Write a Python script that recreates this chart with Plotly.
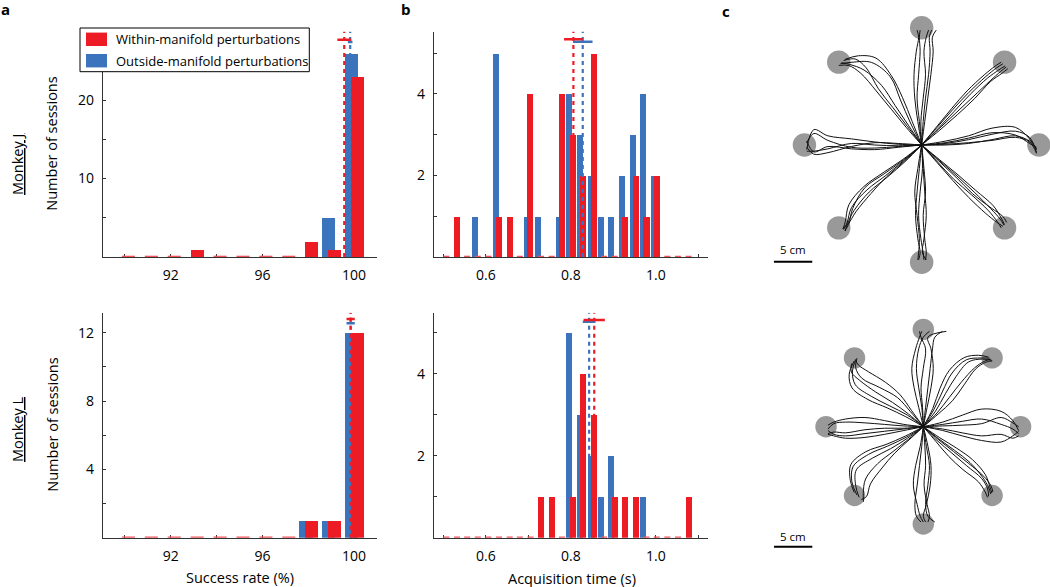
import numpy as np
import plotly.graph_objects as go

W, H = 1050, 587
RED = "#ED1C24"
BLUE = "#3B74BC"
AXC = "#333333"
FONT = "Open Sans"

# ---------------- panel a : success rate ----------------
success_bins = [90, 91, 92, 93, 94, 95, 96, 97, 98, 99, 100]
success_tickvals = [90, 92, 94, 96, 98, 100]
success_ticktext = ["", "92", "", "96", "", "100"]
J_success_within = [0, 0, 0, 1, 0, 0, 0, 0, 2, 1, 23]
J_success_outside = [0, 0, 0, 0, 0, 0, 0, 0, 0, 5, 26]
L_success_within = [0, 0, 0, 0, 0, 0, 0, 0, 1, 1, 12]
L_success_outside = [0, 0, 0, 0, 0, 0, 0, 0, 1, 1, 12]
# [within, outside]
J_success_mean = [99.57, 99.83]
J_success_sem = [0.30, 0.10]
J_success_mark_y = [27.7, 27.4]
L_success_mean = [99.85, 99.85]
L_success_sem = [0.18, 0.18]
L_success_mark_y = [12.8, 12.55]
J_count_tickvals = [5, 10, 15, 20, 25]
J_count_ticktext = ["", "10", "", "20", ""]
L_count_tickvals = [2, 4, 6, 8, 10, 12]
L_count_ticktext = ["", "4", "", "8", "", "12"]

# ---------------- panel b : acquisition time ----------------
acq_bins = [0.507, 0.532, 0.556, 0.581, 0.606, 0.631, 0.656, 0.680, 0.705, 0.730,
            0.755, 0.779, 0.804, 0.829, 0.854, 0.878, 0.903, 0.928, 0.953, 0.978,
            1.002, 1.027, 1.052, 1.077]
acq_tickvals = [0.5, 0.6, 0.7, 0.8, 0.9, 1.0, 1.1]
acq_ticktext = ["", "0.6", "", "0.8", "", "1.0", ""]
J_acq_within = [0, 1, 0, 0, 0, 1, 1, 0, 4, 0, 0, 4, 3, 2, 5, 0, 0, 1, 2, 1, 2, 0, 0, 0]
J_acq_outside = [0, 0, 0, 1, 0, 5, 0, 0, 1, 1, 0, 1, 4, 3, 2, 1, 1, 2, 3, 4, 2, 0, 0, 0]
L_acq_within = [0, 0, 0, 0, 0, 0, 0, 0, 0, 1, 1, 0, 1, 4, 3, 0, 1, 1, 1, 0, 0, 0, 0, 1]
L_acq_outside = [0, 0, 0, 0, 0, 0, 0, 0, 0, 0, 0, 0, 5, 3, 2, 1, 2, 0, 0, 1, 0, 0, 0, 0]
J_acq_mean = [0.806, 0.828]
J_acq_sem = [0.022, 0.023]
J_acq_mark_y = [5.34, 5.28]
L_acq_mean = [0.855, 0.843]
L_acq_sem = [0.025, 0.015]
L_acq_mark_y = [5.31, 5.27]
acq_count_tickvals = [1, 2, 3, 4, 5]
acq_count_ticktext = ["", "2", "", "4", ""]

# ---------------- panel c : cursor trajectories ----------------
target_angles = [90, 45, 0, -45, -90, -135, 180, 135]
J_target_dist, L_target_dist = 15.3, 12.7
J_target_radius, L_target_radius = 1.53, 1.40
scale_bar_cm = 5
traj_fracs = [0, 0.2, 0.4, 0.6, 0.8, 0.92, 0.98]
# perpendicular offsets (cm, + = counter-clockwise side) per trajectory
J_T090 = [[0, 0.3, 0.6, 0.4, 0.2, 0.3, 0.2], [0, -0.2, -0.5, -0.9, -1.1, -1.0, -1.3],
          [0, 0.1, -0.2, -0.5, -0.3, -0.6, -0.9], [0, 0.5, 0.9, 1.0, 0.7, 0.4, 0.6],
          [0, -0.4, -0.8, -1.2, -1.5, -1.4, -1.9]]
J_T045 = [[0, 0.2, 0.4, 0.5, 0.4, 0.2, 0.0], [0, -0.1, -0.2, -0.3, -0.4, -0.5, -0.6],
          [0, 0.3, 0.6, 0.8, 0.7, 0.5, 0.3], [0, 0.0, 0.1, 0.2, 0.1, -0.2, -0.4],
          [0, -0.3, -0.5, -0.6, -0.5, -0.8, -0.9]]
J_T000 = [[0, 0.5, 1.2, 2.2, 2.3, 0.8, -0.6], [0, 0.2, 0.7, 1.4, 1.8, 1.0, -1.0],
          [0, 0.1, 0.3, 0.6, 1.0, 0.4, -1.1], [0, 0.3, 0.9, 1.6, 1.3, 0.2, -0.3],
          [0, 0.0, 0.2, 0.7, 1.2, 0.5, -0.5]]
J_T315 = [[0, 0.2, 0.4, 0.5, 0.5, 0.4, 0.2], [0, -0.2, -0.4, -0.5, -0.4, -0.2, 0.0],
          [0, 0.1, 0.2, 0.2, 0.6, 0.9, 0.7], [0, -0.1, -0.2, 0.0, 0.1, -0.1, -0.3],
          [0, 0.3, 0.6, 0.8, 1.0, 0.6, 0.3]]
J_T270 = [[0, 0.3, 0.5, 0.2, 0.4, 0.6, 0.5], [0, -0.3, -0.6, -0.8, -0.5, -0.2, -0.4],
          [0, 0.1, -0.2, -0.4, -0.1, 0.2, 0.3], [0, -0.5, -0.9, -0.6, -0.3, -0.4, -0.5],
          [0, 0.2, 0.4, 0.6, 0.3, 0.1, 0.6]]
J_T225 = [[0, -0.3, -0.8, -1.3, -0.5, 0.6, 0.8], [0, -0.2, -0.5, -0.9, -0.7, 0.3, 0.6],
          [0, 0.0, -0.2, -0.5, -0.2, 0.4, 0.9], [0, -0.4, -1.0, -1.5, -1.2, 0.0, 0.5],
          [0, -0.1, -0.3, -0.2, 0.1, 0.5, 0.4]]
J_T180 = [[0, 0.2, 0.4, 0.3, -0.6, -1.5, -0.3], [0, -0.2, -0.3, 0.2, 1.0, 1.2, 0.3],
          [0, 0.1, 0.0, -0.2, 0.5, 0.8, 0.8], [0, -0.1, -0.4, -0.8, -1.2, -2.0, 0.6],
          [0, 0.3, 0.6, 0.5, 0.2, 0.9, -0.5]]
J_T135 = [[0, -1.0, -2.2, -3.4, -3.0, -1.2, 0.0], [0, -0.6, -1.2, -1.8, -1.6, -0.8, -0.2],
          [0, -0.4, -0.8, -1.2, -2.0, -1.8, -0.6], [0, -1.3, -2.6, -3.6, -3.8, -2.4, -0.8],
          [0, -0.2, -0.5, -0.8, -1.0, -0.6, 0.3]]
L_T090 = [[0, 0.6, 1.2, 1.5, 1.0, 0.5, 0.2], [0, -0.3, -0.6, -0.9, -1.2, -1.5, -2.5],
          [0, 0.2, 0.6, 0.9, 0.6, 0.0, -0.8], [0, -0.5, -1.0, -1.3, -1.0, -0.6, -3.0],
          [0, 0.1, 0.3, 0.0, -0.3, 0.3, 0.5]]
L_T045 = [[0, 0.6, 1.5, 2.3, 2.2, 1.0, 0.2], [0, 0.3, 1.0, 1.6, 1.8, 0.8, -0.2],
          [0, 0.0, 0.3, 0.6, 0.7, 0.4, 0.0], [0, 0.8, 2.0, 2.8, 2.6, 1.5, 0.4],
          [0, -0.2, -0.3, 0.1, 0.5, 0.2, -0.3]]
L_T000 = [[0, 0.6, 1.5, 2.3, 2.0, 0.8, -0.5], [0, -0.3, -0.8, -1.2, -1.0, -1.5, -1.2],
          [0, 0.3, 0.7, 1.0, 0.3, -0.3, -0.9], [0, -0.5, -1.2, -1.8, -2.0, -1.2, -0.6],
          [0, 0.1, 0.2, 0.4, 1.2, 0.5, 0.0]]
L_T315 = [[0, 0.3, 0.7, 1.0, 0.8, 0.4, 0.0], [0, 0.0, 0.2, 0.4, 0.6, 0.2, -0.4],
          [0, 0.5, 1.1, 1.5, 1.3, 0.6, 0.2], [0, -0.2, -0.4, -0.3, 0.0, -0.3, -0.6],
          [0, 0.2, 0.5, 0.8, 1.0, 0.8, 0.4]]
L_T270 = [[0, 0.4, 0.8, 0.6, 0.3, 0.6, 1.5], [0, -0.4, -1.0, -1.3, -0.8, -0.4, 0.0],
          [0, 0.2, 0.3, 0.1, 0.5, 0.8, 0.6], [0, -0.2, -0.5, -0.8, -1.1, -0.9, -0.3],
          [0, 0.6, 1.0, 0.9, 0.4, 0.0, 0.3]]
L_T225 = [[0, -0.6, -1.5, -2.5, -2.8, -1.5, 0.2], [0, -0.4, -1.0, -1.8, -2.2, -0.8, 0.6],
          [0, -0.2, -0.5, -0.8, -0.5, 0.6, 1.4], [0, -0.8, -1.8, -3.0, -3.2, -1.8, -0.3],
          [0, -0.1, -0.2, 0.0, 0.4, 1.2, 1.0]]
L_T180 = [[0, 0.3, 0.6, 0.9, 1.2, 1.0, 0.5], [0, -0.3, -0.8, -1.2, -1.0, -0.6, -0.2],
          [0, 0.5, 1.0, 1.4, 1.5, 1.2, 1.0], [0, -0.1, -0.3, -0.5, -0.6, -0.4, 0.3],
          [0, 0.2, 0.2, 0.4, 0.8, 0.7, 0.9]]
L_T135 = [[0, 0.4, 1.2, 2.0, 2.4, 1.4, 0.0], [0, -0.4, -0.8, -0.6, 0.0, 0.3, 0.1],
          [0, 0.7, 1.6, 2.6, 3.0, 2.0, 0.3], [0, -0.2, -0.3, 0.4, 1.2, 0.8, -0.2],
          [0, 0.2, 0.6, 1.2, 1.6, 1.6, 0.8]]
J_trajs = [J_T090, J_T045, J_T000, J_T315, J_T270, J_T225, J_T180, J_T135]
L_trajs = [L_T090, L_T045, L_T000, L_T315, L_T270, L_T225, L_T180, L_T135]


def px_x(px):
    return px / W


def px_y(py):
    return 1 - py / H


fig = go.Figure()


def add_hist(xa, ya, bins, within, outside, means, sems, mark_y, ytop, red_off, blue_off, bw, lw_err):
    xr = "x" + xa
    yr = "y" + ya
    bins = np.array(bins, dtype=float)
    within = np.array(within)
    outside = np.array(outside)
    for m, col in [(means[1], BLUE), (means[0], RED)]:
        fig.add_trace(go.Scatter(x=[m, m], y=[0, ytop], mode="lines",
                                 line=dict(color=col, width=2.2, dash="4px,4px"),
                                 xaxis=xr, yaxis=yr, hoverinfo="skip"))
    nz_o = outside > 0
    fig.add_trace(go.Bar(x=(bins + blue_off)[nz_o], y=outside[nz_o], width=bw,
                         marker=dict(color=BLUE, line=dict(width=0)), opacity=1,
                         xaxis=xr, yaxis=yr))
    nz_w = within > 0
    fig.add_trace(go.Bar(x=(bins + red_off)[nz_w], y=within[nz_w], width=bw,
                         marker=dict(color=RED, line=dict(width=0)), opacity=1,
                         xaxis=xr, yaxis=yr))
    zx, zy = [], []
    for c in (bins + red_off)[~nz_w]:
        zx += [c - bw / 2, c + bw / 2, None]
        zy += [0, 0, None]
    fig.add_trace(go.Scatter(x=zx, y=zy, mode="lines", line=dict(color="#F0555B", width=2.6),
                             xaxis=xr, yaxis=yr, hoverinfo="skip"))
    for m, s, yy, col in [(means[1], sems[1], mark_y[1], BLUE), (means[0], sems[0], mark_y[0], RED)]:
        fig.add_trace(go.Scatter(x=[m - s, m + s], y=[yy, yy], mode="lines",
                                 line=dict(color=col, width=lw_err),
                                 xaxis=xr, yaxis=yr, hoverinfo="skip"))


a_top = [0, 28.75]
a_bot = [0, 13.17]
b_top = [0, 5.53]
b_bot = [0, 5.49]
add_hist("", "", success_bins, J_success_within, J_success_outside, J_success_mean,
         J_success_sem, J_success_mark_y, a_top[1], 0.15, -0.1, 0.57, 2.5)
add_hist("2", "2", success_bins, L_success_within, L_success_outside, L_success_mean,
         L_success_sem, L_success_mark_y, a_bot[1], 0.15, -0.1, 0.57, 2.5)
add_hist("3", "3", acq_bins, J_acq_within, J_acq_outside, J_acq_mean,
         J_acq_sem, J_acq_mark_y, b_top[1], 0.0, -0.0075, 0.0142, 2.5)
add_hist("4", "4", acq_bins, L_acq_within, L_acq_outside, L_acq_mean,
         L_acq_sem, L_acq_mark_y, b_bot[1], 0.0, -0.0075, 0.0142, 2.5)


def add_center_out(xa, ya, trajs, dist, radius):
    xr, yr = "x" + xa, "y" + ya
    ang = np.deg2rad(target_angles)
    tx = dist * np.cos(ang)
    ty = dist * np.sin(ang)
    fig.add_trace(go.Scatter(x=tx, y=ty, mode="markers",
                             marker=dict(color="#999999", size=2 * radius * 7.66, line=dict(width=0)),
                             xaxis=xr, yaxis=yr, hoverinfo="skip"))
    for a_deg, group in zip(target_angles, trajs):
        a = np.deg2rad(a_deg)
        u = np.array([np.cos(a), np.sin(a)])
        n = np.array([-np.sin(a), np.cos(a)])
        for offs in group:
            f = np.array(traj_fracs)
            o = np.array(offs)
            xs = dist * f * u[0] + o * n[0]
            ys = dist * f * u[1] + o * n[1]
            fig.add_trace(go.Scatter(x=xs, y=ys, mode="lines",
                                     line=dict(color="#111111", width=1, shape="spline", smoothing=1.0),
                                     xaxis=xr, yaxis=yr, hoverinfo="skip"))


add_center_out("5", "5", J_trajs, J_target_dist, J_target_radius)
add_center_out("6", "6", L_trajs, L_target_dist, L_target_radius)

for xa, x0, yb, ylab in [("5", -19.28, -15.23, -13.7), ("6", -19.49, -15.67, -14.36)]:
    fig.add_trace(go.Scatter(x=[x0, x0 + scale_bar_cm], y=[yb, yb], mode="lines",
                             line=dict(color="black", width=2), xaxis="x" + xa, yaxis="y" + xa,
                             hoverinfo="skip"))
    fig.add_annotation(x=x0 + scale_bar_cm / 2, y=ylab, xref="x" + xa, yref="y" + xa,
                       text=f"{scale_bar_cm} cm", showarrow=False,
                       font=dict(family=FONT, size=11.5, color="black"))

tickfont = dict(family=FONT, size=14, color="black")


def hax(dom, rng, tv, tt):
    return dict(domain=dom, range=rng, tickvals=tv, ticktext=tt, showline=True, linecolor=AXC,
                linewidth=1.4, ticks="inside", ticklen=3, tickwidth=1.2, tickcolor=AXC,
                showgrid=False, zeroline=False, tickfont=tickfont, ticklabelstandoff=5,
                layer="below traces", fixedrange=True)


ax_a_x = [px_x(103), px_x(377)]
ax_b_x = [px_x(434), px_x(707.7)]
top_y = [px_y(257), px_y(31.5)]
bot_y = [px_y(537.7), px_y(312.7)]

hidden = dict(visible=False, showgrid=False, zeroline=False, fixedrange=True)

fig.update_layout(
    width=W, height=H, margin=dict(l=0, r=0, t=0, b=0),
    paper_bgcolor="white", plot_bgcolor="white", showlegend=False,
    barmode="overlay", bargap=0,
    font=dict(family=FONT, color="black"),
    xaxis=dict(**hax(ax_a_x, [89.04, 101.0], success_tickvals, success_ticktext), anchor="y"),
    yaxis=dict(**hax(top_y, a_top, J_count_tickvals, J_count_ticktext), anchor="x"),
    xaxis2=dict(**hax(ax_a_x, [89.04, 101.0], success_tickvals, success_ticktext), anchor="y2"),
    yaxis2=dict(**hax(bot_y, a_bot, L_count_tickvals, L_count_ticktext), anchor="x2"),
    xaxis3=dict(**hax(ax_b_x, [0.478, 1.122], acq_tickvals, acq_ticktext), anchor="y3"),
    yaxis3=dict(**hax(top_y, b_top, acq_count_tickvals, acq_count_ticktext), anchor="x3"),
    xaxis4=dict(**hax(ax_b_x, [0.478, 1.122], acq_tickvals, acq_ticktext), anchor="y4"),
    yaxis4=dict(**hax(bot_y, b_bot, acq_count_tickvals, acq_count_ticktext), anchor="x4"),
    xaxis5=dict(domain=[px_x(760), 1], range=[-21.1, 16.75], anchor="y5", **hidden),
    yaxis5=dict(domain=[px_y(290), 1], range=[-18.93, 18.93], anchor="x5", **hidden),
    xaxis6=dict(domain=[px_x(760), 1], range=[-21.32, 16.54], anchor="y6", **hidden),
    yaxis6=dict(domain=[px_y(580), px_y(295)], range=[-20.01, 17.19], anchor="x6", **hidden),
)

fig.add_shape(type="rect", xref="paper", yref="paper", x0=px_x(80), x1=px_x(309.3),
              y0=px_y(71.7), y1=px_y(28), fillcolor="white", line=dict(color="black", width=1),
              layer="above")
for col, yc, label in [(RED, 39.3, "Within-manifold perturbations"),
                       (BLUE, 60.7, "Outside-manifold perturbations")]:
    fig.add_shape(type="rect", xref="paper", yref="paper", x0=px_x(86), x1=px_x(107),
                  y0=px_y(yc + 6.7), y1=px_y(yc - 6.7), fillcolor=col, line=dict(width=0),
                  layer="above")
    fig.add_annotation(x=px_x(114), y=px_y(yc), xref="paper", yref="paper", text=label,
                       showarrow=False, xanchor="left", yanchor="middle",
                       font=dict(family=FONT, size=13, color="black"))

labels = [
    ("Number of sessions", 51.7, 144, -90, 14.5),
    ("Number of sessions", 51.7, 425, -90, 14.5),
    ("<u>Monkey J</u>", 17, 165, -90, 14.5),
    ("<u>Monkey L</u>", 17, 430, -90, 14.5),
    ("Success rate (%)", 240, 577, 0, 14.5),
    ("Acquisition time (s)", 571.7, 578, 0, 14.5),
    ("<b>a</b>", 5, 9, 0, 15),
    ("<b>b</b>", 406, 9, 0, 15),
    ("<b>c</b>", 726, 11, 0, 15),
]
for txt, x, y, ang, sz in labels:
    fig.add_annotation(x=px_x(x), y=px_y(y), xref="paper", yref="paper", text=txt,
                       showarrow=False, textangle=ang, xanchor="center", yanchor="middle",
                       font=dict(family=FONT, size=sz, color="black"))

fig.write_html("out.html", config={"displayModeBar": False},
               post_script="document.body.style.margin='0';document.body.style.overflow='hidden';")
